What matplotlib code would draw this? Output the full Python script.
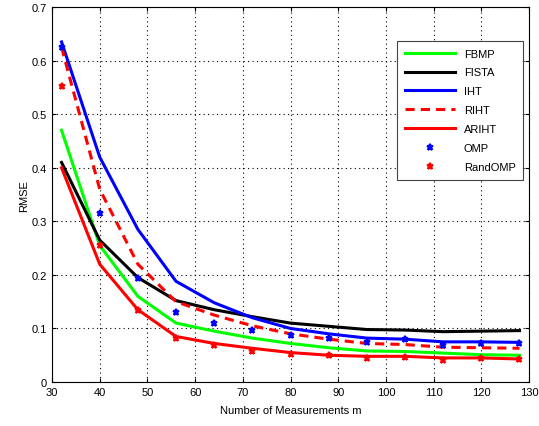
import matplotlib
matplotlib.use("Agg")
import matplotlib.pyplot as plt

m = [32, 40, 48, 56, 64, 72, 80, 88, 96, 104, 112, 120, 128]

fbmp = [0.47, 0.255, 0.16, 0.11, 0.095, 0.082, 0.072, 0.064, 0.058, 0.057, 0.054, 0.051, 0.05]
fista = [0.41, 0.265, 0.195, 0.152, 0.135, 0.122, 0.11, 0.104, 0.098, 0.097, 0.094, 0.095, 0.096]
iht = [0.635, 0.42, 0.285, 0.188, 0.148, 0.12, 0.1, 0.09, 0.082, 0.08, 0.075, 0.075, 0.074]
riht = [0.625, 0.36, 0.22, 0.15, 0.125, 0.105, 0.09, 0.08, 0.072, 0.07, 0.065, 0.064, 0.063]
ariht = [0.4, 0.22, 0.135, 0.085, 0.072, 0.063, 0.055, 0.05, 0.048, 0.048, 0.045, 0.045, 0.043]
omp = [0.625, 0.315, 0.195, 0.13, 0.111, 0.098, 0.088, 0.082, 0.075, 0.08, 0.07, 0.072, 0.073]
randomp = [0.553, 0.255, 0.135, 0.082, 0.07, 0.058, 0.053, 0.05, 0.045, 0.047, 0.042, 0.045, 0.043]

plt.rcParams["font.family"] = "Liberation Sans"
fig = plt.figure(figsize=(5.39, 4.27), dpi=100)
ax = fig.add_axes([0.0965, 0.103, 0.885, 0.878])

ax.plot(m, fbmp, color="#00ff00", lw=2.2, label="FBMP")
ax.plot(m, fista, color="black", lw=2.2, label="FISTA")
ax.plot(m, iht, color="blue", lw=2.2, label="IHT")
ax.plot(m, riht, color="red", lw=2.2, ls=(0, (3, 2)), label="RIHT")
ax.plot(m, ariht, color="red", lw=2.2, label="ARIHT")
ax.plot(m, omp, "*", color="blue", ms=5, mew=1.5, label="OMP")
ax.plot(m, randomp, "*", color="red", ms=5, mew=1.5, label="RandOMP")

ax.set_xlim(30, 130)
ax.set_ylim(0, 0.7)
ax.set_xticks(range(30, 131, 10))
ax.set_yticks([0, 0.1, 0.2, 0.3, 0.4, 0.5, 0.6, 0.7])
ax.set_yticklabels(["0", "0.1", "0.2", "0.3", "0.4", "0.5", "0.6", "0.7"])
ax.grid(True, ls=(0, (1, 3)), color="black", lw=0.8)
ax.tick_params(direction="in", labelsize=8, top=True, right=True, length=3)
ax.set_xlabel("Number of Measurements m", fontsize=8, labelpad=6)
ax.set_ylabel("RMSE", fontsize=8, labelpad=2)

leg = ax.legend(loc="upper right", bbox_to_anchor=(1.0, 0.925), fontsize=8,
                fancybox=False, edgecolor="#444444", framealpha=1,
                handlelength=4.5, labelspacing=0.8, borderpad=0.7)
leg.get_frame().set_linewidth(0.8)

fig.savefig("out.png", dpi=100)
